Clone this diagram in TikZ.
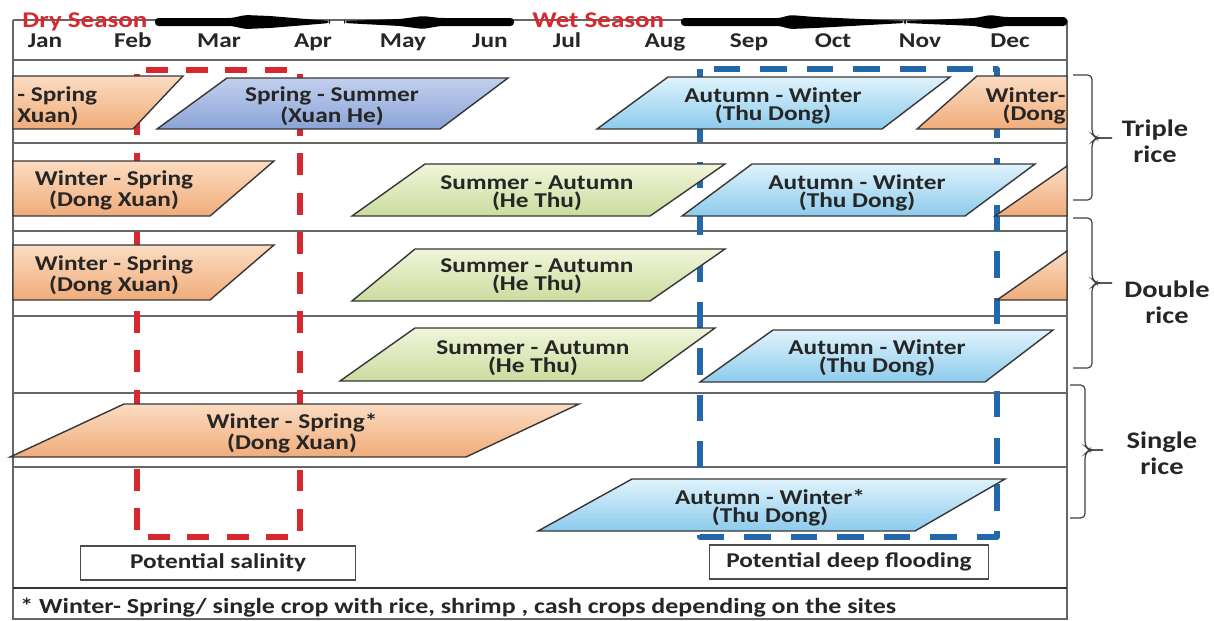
\documentclass[tikz,border=0pt]{standalone}
\usepackage{fontspec}
\setmainfont{Carlito}[FakeStretch=1.2]

\definecolor{seco}{RGB}{214,40,46}
\definecolor{lluvia}{RGB}{36,104,172}
\definecolor{borde}{RGB}{55,55,55}
\definecolor{naranjaA}{RGB}{252,220,194}
\definecolor{naranjaB}{RGB}{240,172,122}
\definecolor{lilaA}{RGB}{194,208,238}
\definecolor{lilaB}{RGB}{138,163,214}
\definecolor{celesteA}{RGB}{224,243,252}
\definecolor{celesteB}{RGB}{140,203,236}
\definecolor{verdeA}{RGB}{240,245,218}
\definecolor{verdeB}{RGB}{203,220,158}

\tikzset{
	cultivo/.style={draw=borde, line width=0.8pt},
	invierno/.style={cultivo, top color=naranjaA, bottom color=naranjaB},
	primavera/.style={cultivo, top color=lilaA, bottom color=lilaB},
	otono/.style={cultivo, top color=celesteA, bottom color=celesteB},
	verano/.style={cultivo, top color=verdeA, bottom color=verdeB},
	etiqueta/.style={font=\bfseries\fontsize{12}{10.5}\selectfont, text=black!85, align=center, inner sep=0pt},
	mes/.style={font=\bfseries\fontsize{12}{14}\selectfont, text=black!85, inner sep=0pt, anchor=base},
	grupo/.style={font=\bfseries\fontsize{13.5}{15}\selectfont, text=black!85, align=center, inner sep=0pt},
	estacion/.style={font=\bfseries\fontsize{12.8}{14}\selectfont, text=seco, inner sep=0pt, anchor=base west},
	fila/.style={draw=black!60, line width=0.6pt},
	llave/.style={draw=black!75, line width=0.7pt, rounded corners=2.5pt},
	riesgo/.style={draw=black!70, line width=0.7pt, minimum height=0.68cm, inner sep=0pt,
		font=\bfseries\fontsize{12}{14}\selectfont, text=black!85},
	salino/.style={draw=seco, line width=3.2pt, dash pattern=on 12.5pt off 10pt, dash phase=-2pt, line join=round},
	inundable/.style={draw=lluvia, line width=3.2pt, dash pattern=on 15pt off 11.5pt, line join=round}
}

\begin{document}
\begin{tikzpicture}[x=0.02cm, y=-0.02cm]
	\useasboundingbox (0,0) rectangle (1214,620);
	% Marco
		\draw[fila] (13,20) -- (1067,20);
		\draw[fila] (13,20) -- (13,620);
		\draw[fila] (1067,20) -- (1067,620);
		\draw[fila] (13,619) -- (1067,619);
		\foreach \y in {60,143,231,316,393,467}
			\draw[fila] (13,\y) -- (1067,\y);
		\draw[black!80, line width=1.4pt] (13,588) -- (1067,588);

	% Estaciones
		\node[estacion] (dry) at (22,27) {Dry Season};
		\node[estacion] (wet) at (532,27) {Wet Season};
		\fill[black, rounded corners=2pt] (155,18) -- (232,18) -- (245,15) -- (270,16) -- (330,21) -- (330,23) -- (270,28) -- (245,29) -- (232,26) -- (155,26) -- cycle;
		\fill[black, rounded corners=2pt] (344,21) -- (400,19) -- (423,16) -- (440,18) -- (514,18) -- (514,26) -- (440,26) -- (423,29) -- (400,26) -- (344,23) -- cycle;
		\fill[black, rounded corners=2pt] (681,18) -- (780,18) -- (790,15) -- (815,17) -- (905,21) -- (905,23) -- (815,28) -- (790,29) -- (780,26) -- (681,26) -- cycle;
		\fill[black, rounded corners=2pt] (905,21) -- (975,18) -- (990,15) -- (1005,17) -- (1067,17) -- (1067,26) -- (1005,26) -- (990,29) -- (975,26) -- (905,23) -- cycle;

	% Meses
		\foreach \m/\x in {Jan/45, Feb/133, Mar/219, Apr/313, May/403, Jun/490, Jul/567, Aug/665, Sep/749, Oct/833, Nov/920, Dec/1010}
			\node[mes] (mes-\m) at (\x,47) {\m};

	% Zonas de riesgo
		\draw[salino] (137,70) rectangle (300,537);
		\draw[inundable] (700,69) rectangle (997,537);

	% Triple arroz
		\draw[invierno] (13,76) -- (183,76) -- (133,129) -- (13,129) -- cycle;
		\draw[primavera] (227,78) -- (508,78) -- (440,129) -- (157,129) -- cycle;
		\draw[otono] (668,77) -- (950,77) -- (882,129) -- (597,129) -- cycle;
		\draw[invierno] (977,76) -- (1067,76) -- (1067,129) -- (917,129) -- cycle;
		\node[etiqueta, align=left, anchor=west] (t1a) at (17,106) {- Spring\\Xuan)};
		\node[etiqueta] (t1b) at (332,106) {Spring - Summer\\(Xuan He)};
		\node[etiqueta] (t1c) at (773,106) {Autumn - Winter\\(Thu Dong)};
		\node[etiqueta, align=right, anchor=east] (t1d) at (1066,106) {Winter-\\(Dong};

		\draw[invierno] (13,161) -- (274,161) -- (210,216) -- (13,216) -- cycle;
		\draw[verano] (425,164) -- (725,164) -- (650,216) -- (352,216) -- cycle;
		\draw[otono] (752,164) -- (1035,164) -- (965,216) -- (682,216) -- cycle;
		\draw[invierno] (995,216) -- (1067,166) -- (1067,216) -- cycle;
		\node[etiqueta] (t2a) at (114,190) {Winter - Spring\\(Dong Xuan)};
		\node[etiqueta] (t2b) at (537,193) {Summer - Autumn\\(He Thu)};
		\node[etiqueta] (t2c) at (857,193) {Autumn - Winter\\(Thu Dong)};

	% Doble arroz
		\draw[invierno] (13,245) -- (274,245) -- (210,300) -- (13,300) -- cycle;
		\draw[verano] (415,249) -- (725,249) -- (650,301) -- (352,301) -- cycle;
		\draw[invierno] (997,300) -- (1067,251) -- (1067,300) -- cycle;
		\node[etiqueta] (d1a) at (114,275) {Winter - Spring\\(Dong Xuan)};
		\node[etiqueta] (d1b) at (537,276) {Summer - Autumn\\(He Thu)};

		\draw[verano] (415,328) -- (715,328) -- (642,381) -- (340,381) -- cycle;
		\draw[otono] (773,330) -- (1053,330) -- (985,382) -- (700,382) -- cycle;
		\node[etiqueta] (d2a) at (533,358) {Summer - Autumn\\(He Thu)};
		\node[etiqueta] (d2b) at (877,358) {Autumn - Winter\\(Thu Dong)};

	% Arroz simple
		\draw[invierno] (124,404) -- (579,404) -- (466,457) -- (10,457) -- cycle;
		\node[etiqueta] (s1) at (292,433) {Winter - Spring*\\(Dong Xuan)};
		\draw[otono] (632,479) -- (1005,479) -- (915,531) -- (538,531) -- cycle;
		\node[etiqueta] (s2) at (770,508) {Autumn - Winter*\\(Thu Dong)};

	% Cajas de riesgo
		\node[riesgo, minimum width=5.5cm] (salinidad) at (218,563) {Potential salinity};
		\node[riesgo, minimum width=5.58cm] (inundacion) at (849,562) {Potential deep flooding};

	% Llaves
		\draw[llave] (1073,75) -- (1092,75) -- (1092,134) -- (1096,138) -- (1112,138);
		\draw[llave] (1112,138) -- (1096,138) -- (1092,142) -- (1092,200) -- (1073,200);
		\node[grupo] (triple) at (1155,141) {Triple\\rice};

		\draw[llave] (1073,218) -- (1092,218) -- (1092,279) -- (1096,283) -- (1112,283);
		\draw[llave] (1112,283) -- (1096,283) -- (1092,287) -- (1092,368) -- (1073,368);
		\node[grupo] (doble) at (1167,302) {Double\\rice};

		\draw[llave] (1070,385) -- (1085,385) -- (1085,446) -- (1089,450) -- (1103,450);
		\draw[llave] (1103,450) -- (1089,450) -- (1085,454) -- (1085,518) -- (1070,518);
		\node[grupo] (simple) at (1162,453) {Single\\rice};

	% Nota
		\node[font=\bfseries\fontsize{12.3}{14}\selectfont, text=black!85, anchor=base west, inner sep=0pt] (nota) at (20,613) {* Winter- Spring/ single crop with rice, shrimp , cash crops depending on the sites};
\end{tikzpicture}
\end{document}
